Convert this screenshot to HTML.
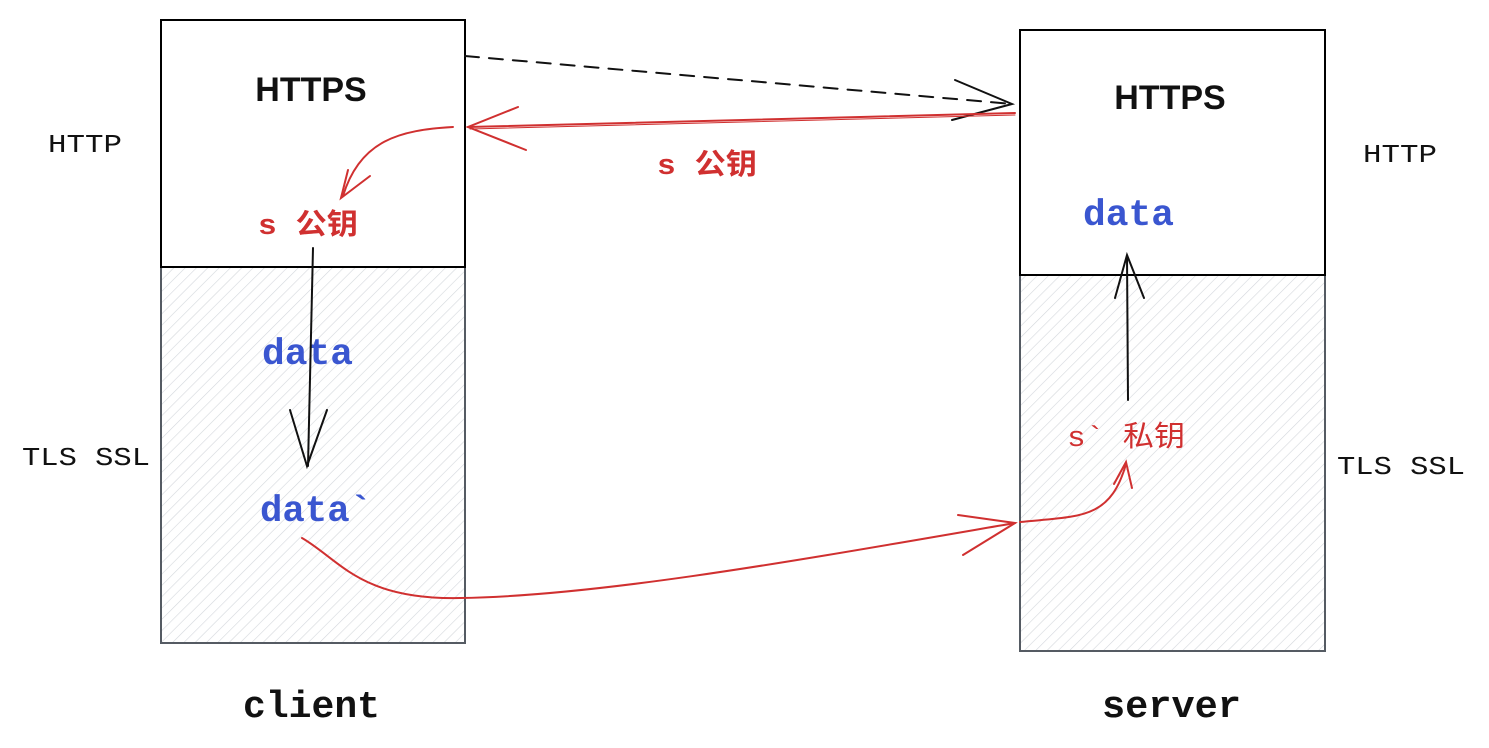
<!DOCTYPE html>
<html><head><meta charset="utf-8"><style>
html,body{margin:0;padding:0;background:#fff;}
svg{display:block;}
.mono{font-family:"Liberation Mono","Noto Sans CJK SC",monospace;}
.sans{font-family:"Liberation Sans","Noto Sans CJK SC",sans-serif;}
</style></head><body>
<svg width="1489" height="748" viewBox="0 0 1489 748" xmlns="http://www.w3.org/2000/svg">
<defs>
<pattern id="h" width="8" height="8" patternUnits="userSpaceOnUse" patternTransform="rotate(45)">
<line x1="0" y1="0" x2="0" y2="8" stroke="#d3d7dc" stroke-width="1.2"/>
</pattern>
</defs>
<rect x="161" y="267" width="304" height="376" fill="url(#h)" stroke="#555b63" stroke-width="2"/>
<rect x="161" y="20" width="304" height="247" fill="#fff" stroke="#000" stroke-width="2"/>
<rect x="1020" y="275" width="305" height="376" fill="url(#h)" stroke="#555b63" stroke-width="2"/>
<rect x="1020" y="30" width="305" height="245" fill="#fff" stroke="#000" stroke-width="2"/>

<text x="311" y="101" text-anchor="middle" class="sans" font-size="34" font-weight="bold" fill="#111">HTTPS</text>
<text x="1170" y="109" text-anchor="middle" class="sans" font-size="34" font-weight="bold" fill="#111">HTTPS</text>
<text x="48" y="152" class="mono" font-size="26" fill="#111" textLength="74" lengthAdjust="spacingAndGlyphs">HTTP</text>
<text x="1363" y="162" class="mono" font-size="26" fill="#111" textLength="74" lengthAdjust="spacingAndGlyphs">HTTP</text>
<text x="22" y="465" class="mono" font-size="26" fill="#111" textLength="128" lengthAdjust="spacingAndGlyphs">TLS SSL</text>
<text x="1337" y="474" class="mono" font-size="26" fill="#111" textLength="128" lengthAdjust="spacingAndGlyphs">TLS SSL</text>
<text x="243" y="717" class="mono" font-size="38" font-weight="bold" fill="#111" textLength="137" lengthAdjust="spacingAndGlyphs">client</text>
<text x="1102" y="717" class="mono" font-size="38" font-weight="bold" fill="#111" textLength="139" lengthAdjust="spacingAndGlyphs">server</text>

<text x="262" y="364" class="mono" font-size="37" font-weight="bold" fill="#3a56d0" textLength="91" lengthAdjust="spacingAndGlyphs">data</text>
<text x="260" y="521" class="mono" font-size="37" font-weight="bold" fill="#3a56d0" textLength="112" lengthAdjust="spacingAndGlyphs">data`</text>
<text x="1083" y="225" class="mono" font-size="37" font-weight="bold" fill="#3a56d0" textLength="91" lengthAdjust="spacingAndGlyphs">data</text>

<text x="258" y="234" class="mono" font-size="29" font-weight="bold" fill="#d03030" textLength="100" lengthAdjust="spacingAndGlyphs">s 公钥</text>
<text x="657" y="174" class="mono" font-size="29" font-weight="bold" fill="#d03030" textLength="100" lengthAdjust="spacingAndGlyphs">s 公钥</text>
<text x="1067" y="446" class="mono" font-size="29" fill="#d03030" textLength="118" lengthAdjust="spacingAndGlyphs">s` 私钥</text>

<g fill="none" stroke-linecap="round">
<path d="M465 56 L1012 104" stroke="#111" stroke-width="2" stroke-dasharray="14 10"/>
<path d="M955 80 L1012 104 L952 120" stroke="#111" stroke-width="2"/>
<path d="M1015 113 L468 127" stroke="#d03030" stroke-width="2"/>
<path d="M1015 115 L470 129" stroke="#d03030" stroke-width="1"/>
<path d="M518 107 L468 127 L526 150" stroke="#d03030" stroke-width="2"/>
<path d="M453 127 C400 130 360 140 343 196" stroke="#d03030" stroke-width="2"/>
<path d="M348 170 L341 198 L370 176" stroke="#d03030" stroke-width="2"/>
<path d="M313 248 L308 466" stroke="#111" stroke-width="2"/>
<path d="M290 410 L307 466 L327 410" stroke="#111" stroke-width="2"/>
<path d="M302 538 C340 560 360 600 460 598 C600 596 800 560 1015 523" stroke="#d03030" stroke-width="2"/>
<path d="M958 515 L1015 523 L963 555" stroke="#d03030" stroke-width="2"/>
<path d="M1020 522 C1080 516 1110 520 1126 464" stroke="#d03030" stroke-width="2"/>
<path d="M1114 484 L1126 462 L1132 488" stroke="#d03030" stroke-width="2"/>
<path d="M1128 400 L1127 256" stroke="#111" stroke-width="2"/>
<path d="M1115 298 L1127 255 L1144 298" stroke="#111" stroke-width="2"/>
</g>
</svg>
</body></html>
